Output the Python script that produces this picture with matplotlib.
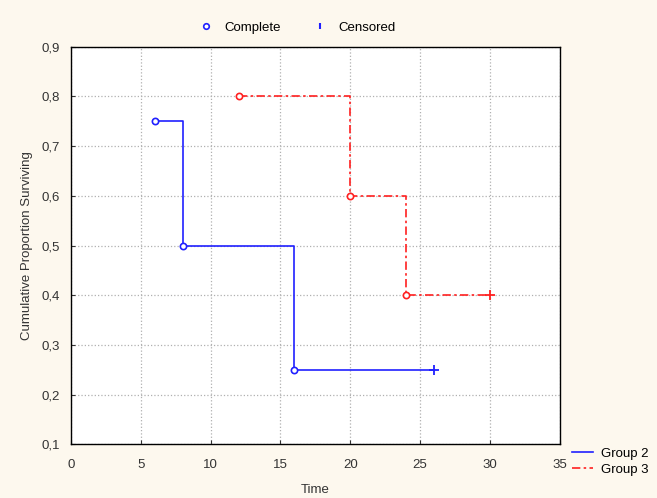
import matplotlib.pyplot as plt
from matplotlib.lines import Line2D
from matplotlib.ticker import FuncFormatter

plt.rcParams["font.family"] = ["Liberation Sans", "DejaVu Sans"]

# Kaplan-Meier estimates per group
g2_times = [6, 8, 16]
g2_surv = [0.75, 0.5, 0.25]
g2_cens_time = [26]
g2_cens_surv = [0.25]

g3_times = [12, 20, 24]
g3_surv = [0.8, 0.6, 0.4]
g3_cens_time = [30]
g3_cens_surv = [0.4]

x_ticks = [0, 5, 10, 15, 20, 25, 30, 35]
y_ticks = [0.1, 0.2, 0.3, 0.4, 0.5, 0.6, 0.7, 0.8, 0.9]

BG = "#fdf8ee"
BLUE = "#2020ff"
RED = "#ff2020"
DASHDOT = (0, (5, 2, 1.5, 2))


def step_path(times, surv, end_time):
    xs, ys = [], []
    for i, (t, s) in enumerate(zip(times, surv)):
        nxt = times[i + 1] if i + 1 < len(times) else end_time
        xs += [t, nxt]
        ys += [s, s]
        if i + 1 < len(times):
            xs.append(nxt)
            ys.append(surv[i + 1])
    return xs, ys


fig = plt.figure(figsize=(6.57, 4.98), dpi=100, facecolor=BG)
ax = fig.add_axes([0.108, 0.108, 0.744, 0.798])
ax.set_facecolor("white")

x2, y2 = step_path(g2_times, g2_surv, g2_cens_time[0])
x3, y3 = step_path(g3_times, g3_surv, g3_cens_time[0])

ax.plot(x2, y2, color=BLUE, lw=1.2)
ax.plot(x3, y3, color=RED, lw=1.2, ls=DASHDOT)

ax.plot(g2_times, g2_surv, ls="none", marker="o", ms=4.5, mfc="white",
        mec=BLUE, mew=1.2)
ax.plot(g3_times, g3_surv, ls="none", marker="o", ms=4.5, mfc="white",
        mec=RED, mew=1.2)
ax.plot(g2_cens_time, g2_cens_surv, ls="none", marker="+", ms=7,
        color=BLUE, mew=1.3)
ax.plot(g3_cens_time, g3_cens_surv, ls="none", marker="+", ms=7,
        color=RED, mew=1.3)

ax.set_xlim(0, 35)
ax.set_ylim(0.1, 0.9)
ax.set_xticks(x_ticks)
ax.set_yticks(y_ticks)
ax.yaxis.set_major_formatter(FuncFormatter(lambda v, _: f"{v:.1f}".replace(".", ",")))
ax.tick_params(direction="in", length=3, labelsize=9.5, colors="#333333",
               labelcolor="#333333")
ax.tick_params(axis="x", pad=11)
ax.tick_params(axis="y", pad=8)
ax.grid(True, color="#b0b0b0", ls=":", lw=0.9)
for sp in ax.spines.values():
    sp.set_color("black")
    sp.set_linewidth(1.0)

ax.set_xlabel("Time", fontsize=9.5, color="#333333", labelpad=9)
ax.set_ylabel("Cumulative Proportion Surviving", fontsize=9.5, color="#333333",
              labelpad=6)

top_handles = [
    Line2D([], [], ls="none", marker="o", ms=4, mfc="white", mec=BLUE, mew=1.2),
    Line2D([], [], ls="none", marker="|", ms=5, color=BLUE, mew=1.5),
]
fig.legend(top_handles, ["Complete", "Censored"], loc="center",
           bbox_to_anchor=(0.452, 0.945), ncol=2, frameon=False, fontsize=9.5,
           handlelength=1.2, columnspacing=2.4, handletextpad=0.8)

side_handles = [
    Line2D([], [], color=BLUE, lw=1.2),
    Line2D([], [], color=RED, lw=1.2, ls=DASHDOT),
]
fig.legend(side_handles, ["Group 2", "Group 3"], loc="upper left",
           bbox_to_anchor=(0.866, 0.106), frameon=False, fontsize=9.5,
           handlelength=1.6, labelspacing=0.25, handletextpad=0.6,
           borderaxespad=0, borderpad=0.2)

fig.savefig("out.png", dpi=100, facecolor=BG)
